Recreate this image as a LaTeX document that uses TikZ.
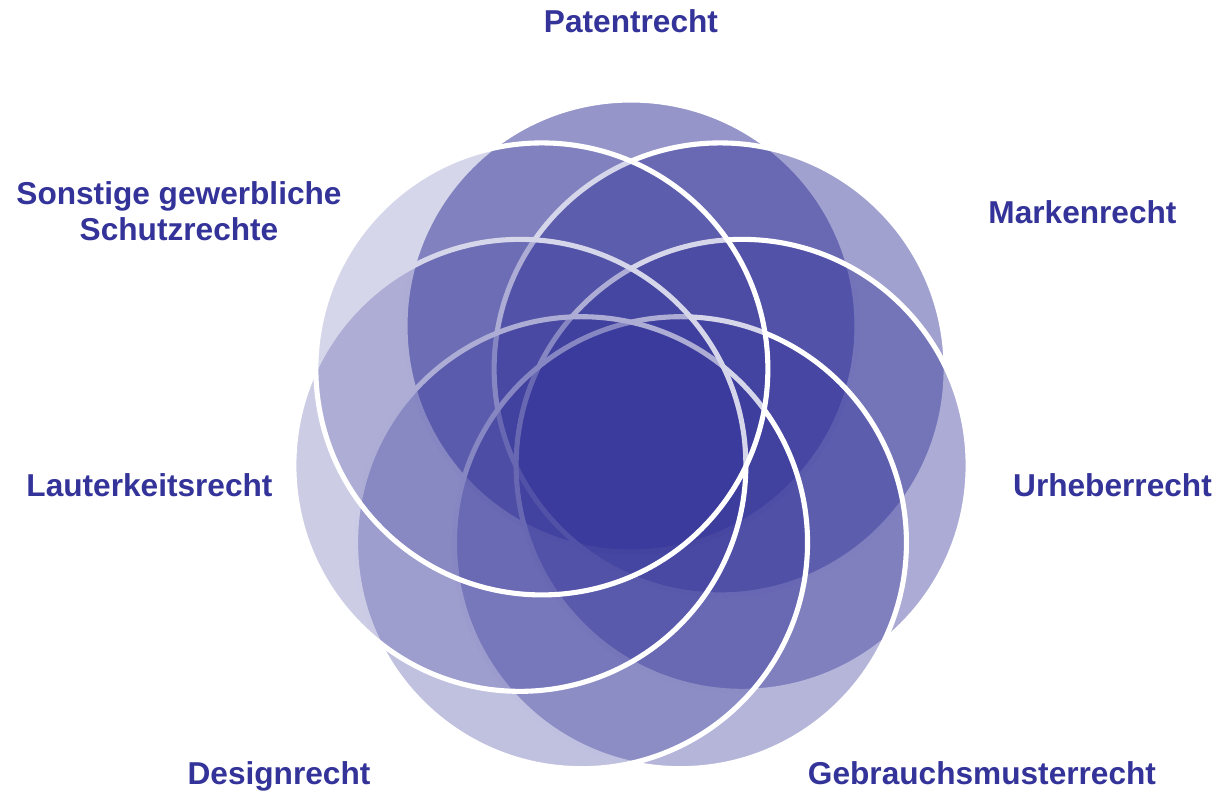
\documentclass[tikz,border=0pt]{standalone}
\usepackage{fontspec}
\setmainfont{Liberation Sans}
\usetikzlibrary{positioning}
\definecolor{ipblue}{HTML}{333399}

\begin{document}
\begin{tikzpicture}[
  ring/.style={circle, minimum size=9.04cm, inner sep=0pt, draw=white, line width=2.9pt, fill=ipblue},
  lbl/.style={text=ipblue, font=\fontsize{18}{20.5}\selectfont\bfseries, inner sep=0pt, anchor=base, align=center}]
\useasboundingbox (-12.62,-7.06) rectangle (11.8,8.8);

\node[ring, fill opacity=0.52](patent) at (90: 2.28cm) {};
\node[ring, fill opacity=0.46](marke) at (90-360/7: 2.28cm) {};
\node[ring, fill opacity=0.41](urheber) at (90-2*360/7: 2.28cm) {};
\node[ring, fill opacity=0.36](gebrauch) at (90-3*360/7: 2.28cm) {};
\node[ring, fill opacity=0.31](design) at (90-4*360/7: 2.28cm) {};
\node[ring, fill opacity=0.25](lauter) at (90-5*360/7: 2.28cm) {};
\node[ring, fill opacity=0.20](sonstige) at (90-6*360/7: 2.28cm) {};

\node[lbl](patentT) at (0,8.14) {Patentrecht};
\node[lbl](markeT) at (9.03,4.32) {Markenrecht};
\node[lbl](urheberT) at (9.63,-1.14) {Urheberrecht};
\node[lbl](gebrauchT) at (7.02,-6.9) {Gebrauchsmusterrecht};
\node[lbl](designT) at (-7.04,-6.9) {Designrecht};
\node[lbl](lauterT) at (-9.63,-1.14) {Lauterkeitsrecht};
\node[lbl](sonstigeT) at (-9.04,3.98) {Sonstige gewerbliche\\Schutzrechte};
\end{tikzpicture}
\end{document}
